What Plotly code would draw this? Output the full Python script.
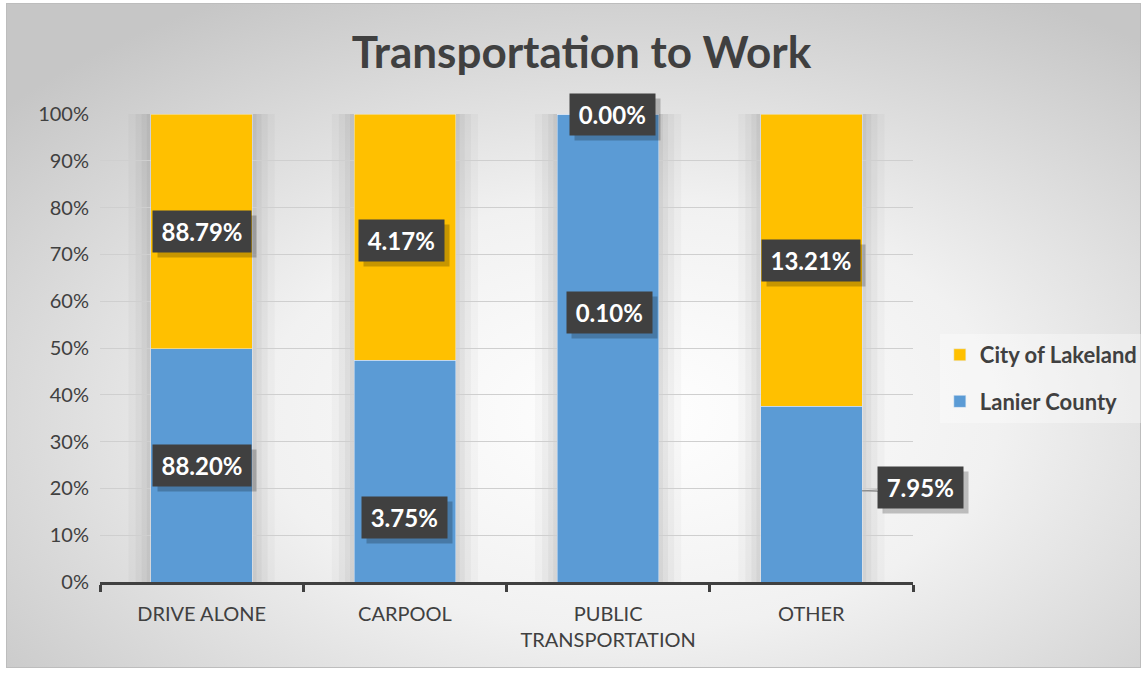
import base64
import plotly.graph_objects as go

categories = ["DRIVE ALONE", "CARPOOL", "PUBLIC<br>TRANSPORTATION", "OTHER"]
lanier_county = [88.20, 3.75, 0.10, 7.95]
city_of_lakeland = [88.79, 4.17, 0.00, 13.21]
series_names = ["Lanier County", "City of Lakeland"]
y_ticks = [0, 10, 20, 30, 40, 50, 60, 70, 80, 90, 100]
y_tick_labels = [f"{v}%" for v in y_ticks]

BLUE = "#5B9BD5"
YELLOW = "#FFC000"
FONT = "Lato, 'Open Sans', sans-serif"

W, H = 1147, 673
L, R, T, B = 100, 234, 114, 91
PW, PH = W - L - R, H - T - B

fig = go.Figure()
fig.add_bar(x=categories, y=lanier_county, name=series_names[0], marker_color=BLUE,
            legendgroup="a", legendrank=2, hoverinfo="skip")
fig.add_bar(x=categories, y=city_of_lakeland, name=series_names[1], marker_color=YELLOW,
            legendgroup="b", legendrank=1, hoverinfo="skip")

# background gradient
svg = f'''<svg xmlns="http://www.w3.org/2000/svg" width="1135" height="665">
<defs><radialGradient id="g" cx="55%" cy="62%" r="72%">
<stop offset="0" stop-color="#ffffff"/><stop offset="0.45" stop-color="#f1f1f1"/>
<stop offset="1" stop-color="#c6c6c6"/></radialGradient></defs>
<rect width="1135" height="665" fill="url(#g)" stroke="#bdbdbd" stroke-width="2"/></svg>'''
src = "data:image/svg+xml;base64," + base64.b64encode(svg.encode()).decode()
fig.add_layout_image(source=src, xref="paper", yref="paper",
                     x=(6 - L) / PW, y=(H - B - 3) / PH,
                     sizex=1135 / PW, sizey=665 / PH,
                     xanchor="left", yanchor="top", sizing="stretch", layer="below")

# bar shadows (soft columns behind bars)
half = 0.25
for i in range(len(categories)):
    for w, a in [(0.11, 0.025), (0.075, 0.03), (0.045, 0.035), (0.02, 0.04)]:
        fig.add_shape(type="rect", xref="x", yref="y", x0=i - half - w, x1=i + half + w,
                      y0=0, y1=100, fillcolor=f"rgba(0,0,0,{a})", line_width=0, layer="below")

LFS = 24
PAD = 8
BOX_H = 25

def box_w(text):
    return 13.5 * len(text) + 1

def add_label(x, y, text, xshift=0, yshift=0, arrow=None):
    bw = box_w(text)
    if arrow is None:
        common = dict(x=x, y=y, xref="x", yref="y", showarrow=False, borderpad=PAD,
                      width=bw, height=BOX_H)
        fig.add_annotation(**common, text=" ", bgcolor="rgba(0,0,0,0.22)",
                           font=dict(family=FONT, size=LFS, color="rgba(0,0,0,0)"),
                           xshift=xshift + 5, yshift=yshift - 5)
        fig.add_annotation(**common, text=text, bgcolor="#404040",
                           font=dict(family=FONT, size=LFS, color="white", weight="bold"),
                           xshift=xshift, yshift=yshift)
    else:
        ax, ay = arrow
        common = dict(x=x, y=y, xref="x", yref="y", showarrow=True, arrowhead=0,
                      arrowcolor="#8c8c8c", arrowwidth=1, borderpad=PAD, standoff=0,
                      width=bw, height=BOX_H)
        fig.add_annotation(**common, ax=ax + 5, ay=ay + 5, text=" ",
                           bgcolor="rgba(0,0,0,0.22)",
                           font=dict(family=FONT, size=LFS, color="rgba(0,0,0,0)"))
        fig.add_annotation(**common, ax=ax, ay=ay, text=text, bgcolor="#404040",
                           font=dict(family=FONT, size=LFS, color="white", weight="bold"))

for i, (a, b) in enumerate(zip(lanier_county, city_of_lakeland)):
    tot = a + b
    pa = a / tot * 100
    pb = b / tot * 100
    # lower segment (Lanier County)
    if i == 0:
        add_label(i, pa / 2, f"{a:.2f}%")
    elif i == 1:
        add_label(i, pa / 2, f"{a:.2f}%", yshift=-46)
    elif i == 2:
        add_label(i, pa / 2, f"{a:.2f}%", xshift=1, yshift=36)
    else:
        add_label(i + half, pa / 2 + 0.7, f"{a:.2f}%", arrow=(58, -3))
    # upper segment (City of Lakeland)
    if i == 1:
        add_label(i, pa + pb / 2, f"{b:.2f}%", xshift=-3, yshift=-3)
    elif i == 2:
        add_label(i, pa + pb / 2, f"{b:.2f}%", xshift=4)
    else:
        add_label(i, pa + pb / 2, f"{b:.2f}%")

fig.update_layout(
    width=W, height=H,
    margin=dict(l=L, r=R, t=T, b=B, autoexpand=False),
    barmode="stack", barnorm="percent", bargap=0.5,
    paper_bgcolor="white", plot_bgcolor="rgba(0,0,0,0)",
    font=dict(family=FONT, color="#595959"),
    title=dict(text="<b>Transportation to Work</b>", x=0.507, xanchor="center",
               y=1 - 53 / H, yanchor="middle", yref="container",
               font=dict(family=FONT, size=44, color="#404040")),
    legend=dict(x=1.033, y=0.53, xanchor="left", yanchor="top",
                bgcolor="rgba(255,255,255,0.35)", traceorder="grouped",
                tracegroupgap=15, font=dict(family=FONT, size=22, color="#404040", weight="bold"),
                itemwidth=30),
    showlegend=True,
)
fig.update_xaxes(range=[-0.5, len(categories) - 0.5], autorange=False,
                 showline=True, linecolor="#404040", linewidth=3, ticks="outside",
                 tickson="boundaries", ticklen=7, tickwidth=3, tickcolor="#404040",
                 tickfont=dict(family=FONT, size=20, color="#404040"), showgrid=False,
                 ticklabelstandoff=12)
fig.update_yaxes(range=[0, 100], tickvals=y_ticks, ticktext=y_tick_labels, showgrid=True,
                 gridcolor="#cfcfcf", gridwidth=1, zeroline=False, showline=False,
                 tickfont=dict(family=FONT, size=20, color="#404040"), ticklabelstandoff=10)

fig.write_html("out.html", config={"displayModeBar": False},
               post_script="document.body.style.margin='0';")
